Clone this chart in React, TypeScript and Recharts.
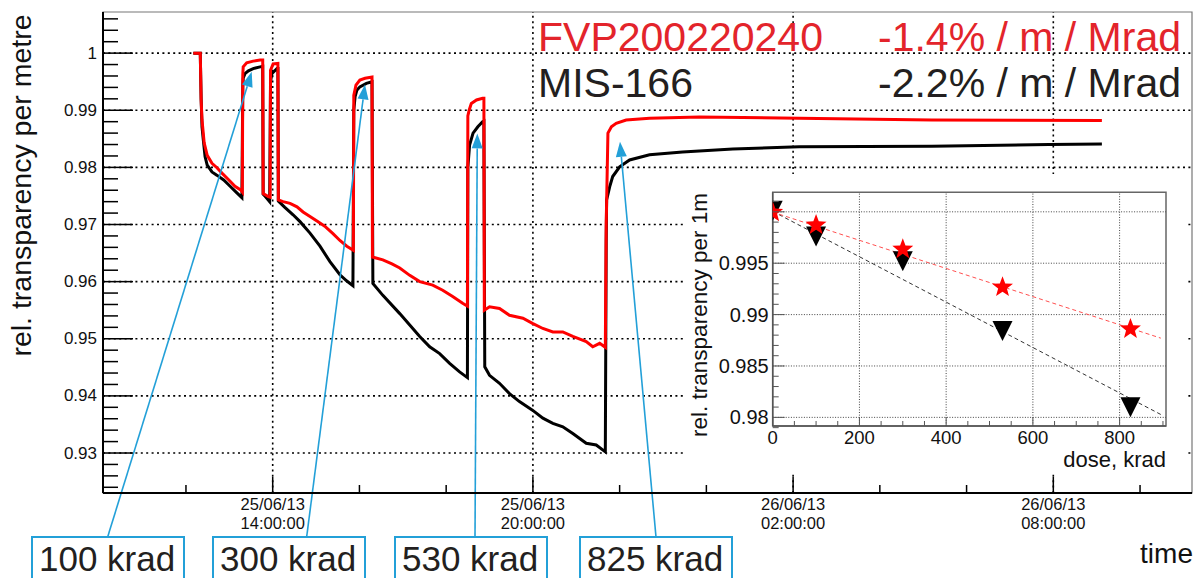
import React from "react";
import {
  LineChart,
  ComposedChart,
  Line,
  Scatter,
  XAxis,
  YAxis,
  ReferenceLine,
  ReferenceArea,
} from "recharts";

const FONT = "'Liberation Sans', Arial, Helvetica, sans-serif";
const RED = "#ff0000";
const TEXT_RED = "#e3242b";
const DARK = "#231f20";
const BLUE = "#23a0d8";

// main plot, time in hours since 25/06/13 00:00
const X_DOMAIN: [number, number] = [10.087, 35.198];
const Y_DOMAIN: [number, number] = [0.923, 1.0072];

const fvpTime = [
  12.17, 12.33, 12.35, 12.37, 12.42, 12.49, 12.6, 12.72, 12.83, 12.99, 13.13, 13.27, 13.3,
  13.31, 13.32, 13.4, 13.55, 13.71, 13.77, 13.78, 13.9, 13.94, 13.95, 14.01, 14.12, 14.13,
  14.24, 14.4, 14.56, 14.7, 14.86, 15.02, 15.2, 15.39, 15.55, 15.71, 15.86, 15.87, 15.92,
  16.01, 16.13, 16.29, 16.3, 16.54, 16.75, 16.93, 17.16, 17.39, 17.69, 17.92, 18.15, 18.38,
  18.49, 18.5, 18.53, 18.58, 18.7, 18.84, 18.87, 18.88, 19.0, 19.23, 19.46, 19.77, 19.99,
  20.23, 20.46, 20.69, 20.92, 21.23, 21.38, 21.54, 21.67, 21.69, 21.73, 21.81, 21.92, 22.15,
  22.69, 23.84, 26.14, 29.2, 33.12,
];
const fvpValue = [
  1.0, 1.0, 0.9918, 0.9883, 0.9843, 0.9821, 0.9807, 0.9799, 0.979, 0.9778, 0.9767, 0.976, 0.9757,
  0.9962, 0.9976, 0.9983, 0.9986, 0.9988, 0.9988, 0.9754, 0.9749, 0.9748, 0.997, 0.9981, 0.9982, 0.9743,
  0.974, 0.9737, 0.9731, 0.9722, 0.9714, 0.9706, 0.9697, 0.9684, 0.9672, 0.9662, 0.9655, 0.9926, 0.9944,
  0.9953, 0.9956, 0.9958, 0.9643, 0.9638, 0.9631, 0.9624, 0.9611, 0.96, 0.9594, 0.9585, 0.9574, 0.9562,
  0.9557, 0.989, 0.99, 0.9912, 0.9918, 0.9921, 0.9921, 0.955, 0.9556, 0.9553, 0.9541, 0.9536, 0.9527,
  0.9518, 0.9512, 0.9512, 0.9504, 0.9495, 0.9486, 0.9492, 0.9485, 0.97, 0.986, 0.9871, 0.9877, 0.9883,
  0.9886, 0.9888, 0.9886, 0.9883, 0.9882,
];

const misTime = [
  12.17, 12.33, 12.35, 12.37, 12.4, 12.44, 12.49, 12.6, 12.72, 12.87, 13.03, 13.18, 13.29,
  13.31, 13.32, 13.36, 13.44, 13.55, 13.71, 13.77, 13.78, 13.83, 13.93, 13.95, 13.98, 14.1,
  14.12, 14.13, 14.28, 14.47, 14.63, 14.86, 15.09, 15.32, 15.55, 15.71, 15.85, 15.87, 15.9,
  15.94, 16.01, 16.16, 16.29, 16.31, 16.54, 16.93, 17.16, 17.39, 17.62, 17.85, 18.08, 18.31,
  18.49, 18.5, 18.54, 18.62, 18.73, 18.84, 18.87, 18.89, 19.0, 19.23, 19.46, 19.69, 19.99,
  20.23, 20.46, 20.69, 20.92, 21.23, 21.46, 21.67, 21.69, 21.7, 21.77, 21.84, 22.0, 22.23,
  22.69, 23.45, 24.61, 26.14, 29.2, 31.9, 33.12,
];
const misValue = [
  1.0, 1.0, 0.992, 0.9871, 0.9848, 0.9819, 0.9804, 0.9792, 0.9786, 0.9778, 0.9766, 0.9755, 0.9747,
  0.994, 0.9956, 0.9964, 0.9969, 0.9973, 0.9976, 0.9977, 0.9753, 0.9749, 0.974, 0.995, 0.9964, 0.9973,
  0.9973, 0.9741, 0.973, 0.9717, 0.9705, 0.9685, 0.9662, 0.9635, 0.9612, 0.9601, 0.9593, 0.99, 0.9924,
  0.9935, 0.9941, 0.9947, 0.995, 0.9597, 0.9576, 0.9544, 0.9524, 0.9504, 0.9486, 0.9474, 0.9457, 0.9442,
  0.9432, 0.98, 0.9839, 0.986, 0.9871, 0.988, 0.9881, 0.9451, 0.9436, 0.9422, 0.9404, 0.939, 0.9375,
  0.9361, 0.9352, 0.9346, 0.9334, 0.9317, 0.9314, 0.9302, 0.967, 0.9743, 0.9766, 0.9784, 0.9801, 0.9813,
  0.9822, 0.9827, 0.9832, 0.9836, 0.9837, 0.984, 0.9841,
];

const timeTicks = [12, 14, 16, 18, 20, 22, 24, 26, 28, 30, 32, 34];
const timeMajor = [14, 20, 26, 32];
const dateLabels = ["25/06/13", "25/06/13", "26/06/13", "26/06/13"];
const clockLabels = ["14:00:00", "20:00:00", "02:00:00", "08:00:00"];

const yMajor = [0.93, 0.94, 0.95, 0.96, 0.97, 0.98, 0.99, 1.0];
const yMajorLabels = ["0.93", "0.94", "0.95", "0.96", "0.97", "0.98", "0.99", "1"];
const yTicks = Array.from({ length: 42 }, (_, i) => +(0.924 + i * 0.002).toFixed(3));

// dose annotations: arrow tip on the curve, tail at the label box
const doseLabels = ["100 krad", "300 krad", "530 krad", "825 krad"];
const arrowTipTime = [13.516, 16.128, 18.718, 22.008];
const arrowTipValue = [0.99673, 0.99452, 0.98595, 0.98448];
const arrowTailTime = [10.196, 14.784, 18.665, 22.838];
const arrowTailValue = 0.91535;
const boxLeft = [32, 213, 395, 580];

// inset: transparency vs dose
const INSET_X: [number, number] = [0, 907];
const INSET_Y: [number, number] = [0.97916, 1.0019];
const doseKrad = [0, 100, 300, 530, 825];
const fvpInset = [0.99995, 0.99871, 0.99636, 0.99267, 0.9886];
const misInset = [1.0002, 0.9977, 0.9953, 0.98851, 0.98108];
const fitDose = [0, 895];
const fvpFit = [0.99997, 0.98771];
const misFit = [1.00005, 0.98028];

const insetXTicks = Array.from({ length: 19 }, (_, i) => i * 50);
const insetXMajor = [0, 200, 400, 600, 800];
const insetYTicks = Array.from({ length: 23 }, (_, i) => +(0.979 + i * 0.001).toFixed(3));
const insetYMajor = [0.98, 0.985, 0.99, 0.995, 1.0];
const insetYLabels = ["0.98", "0.985", "0.99", "0.995", ""];

const fvpData = fvpTime.map((t, i) => ({ t, v: fvpValue[i] }));
const misData = misTime.map((t, i) => ({ t, v: misValue[i] }));
const fvpPoints = doseKrad.map((d, i) => ({ d, v: fvpInset[i] }));
const misPoints = doseKrad.map((d, i) => ({ d, v: misInset[i] }));
const fvpFitData = fitDose.map((d, i) => ({ d, v: fvpFit[i] }));
const misFitData = fitDose.map((d, i) => ({ d, v: misFit[i] }));

const near = (a: number, b: number) => Math.abs(a - b) < 1e-7;

function MainYTick(props: any) {
  const { x, y, payload } = props;
  const idx = yMajor.findIndex((m) => near(m, payload.value));
  const major = idx >= 0;
  return (
    <g>
      <line x1={x} x2={x + (major ? 30 : 15)} y1={y} y2={y} stroke="#000" strokeWidth={1.5} />
      {major && (
        <text x={x - 6} y={y} textAnchor="end" dominantBaseline="central" fontSize={17} fontFamily={FONT} fill="#111">
          {yMajorLabels[idx]}
        </text>
      )}
    </g>
  );
}

function MainXTick(props: any) {
  const { x, y, payload } = props;
  const idx = timeMajor.indexOf(payload.value);
  const major = idx >= 0;
  return (
    <g>
      <line x1={x} x2={x} y1={y} y2={y - (major ? 16 : 8)} stroke="#000" strokeWidth={1.5} />
      {major && (
        <text textAnchor="middle" fontSize={16.5} fontFamily={FONT} fill="#111">
          <tspan x={x} y={y + 17}>{dateLabels[idx]}</tspan>
          <tspan x={x} y={y + 36}>{clockLabels[idx]}</tspan>
        </text>
      )}
    </g>
  );
}

function InsetYTick(props: any) {
  const { x, y, payload } = props;
  const idx = insetYMajor.findIndex((m) => near(m, payload.value));
  const major = idx >= 0;
  return (
    <g>
      <line x1={x} x2={x + (major ? 12 : 6)} y1={y} y2={y} stroke="#555" strokeWidth={1} />
      {major && (
        <text x={x - 4} y={y} textAnchor="end" dominantBaseline="central" fontSize={20} fontFamily={FONT} fill="#111">
          {insetYLabels[idx]}
        </text>
      )}
    </g>
  );
}

function InsetXTick(props: any) {
  const { x, y, payload } = props;
  const major = insetXMajor.includes(payload.value);
  return (
    <g>
      <line x1={x} x2={x} y1={y} y2={y - (major ? 9 : 5)} stroke="#555" strokeWidth={1} />
      {major && (
        <text x={x} y={y + 17.5} textAnchor="middle" fontSize={18.5} fontFamily={FONT} fill="#111">
          {payload.value}
        </text>
      )}
    </g>
  );
}

function ArrowShape(props: any) {
  const { x1, y1, x2, y2 } = props;
  const dx = x2 - x1;
  const dy = y2 - y1;
  const len = Math.hypot(dx, dy) || 1;
  const ux = dx / len;
  const uy = dy / len;
  const hl = 15;
  const hw = 5.5;
  const bx = x2 - ux * hl;
  const by = y2 - uy * hl;
  return (
    <g>
      <line x1={x1} y1={y1} x2={bx} y2={by} stroke={BLUE} strokeWidth={1.6} />
      <polygon
        points={`${x2},${y2} ${bx - uy * hw},${by + ux * hw} ${bx + uy * hw},${by - ux * hw}`}
        fill={BLUE}
      />
    </g>
  );
}

function StarMarker(props: any) {
  const { cx, cy } = props;
  if (cx == null || cy == null) return null;
  const pts: string[] = [];
  for (let i = 0; i < 10; i++) {
    const r = i % 2 === 0 ? 11 : 4.6;
    const a = -Math.PI / 2 + (i * Math.PI) / 5;
    pts.push(`${cx + r * Math.cos(a)},${cy + r * Math.sin(a)}`);
  }
  return <polygon points={pts.join(" ")} fill={RED} />;
}

function TriangleDown(props: any) {
  const { cx, cy } = props;
  if (cx == null || cy == null) return null;
  return <polygon points={`${cx - 10},${cy - 9} ${cx + 10},${cy - 9} ${cx},${cy + 11}`} fill="#000" />;
}

function MainChart() {
  return (
    <LineChart width={1196} height={578} margin={{ top: 12, right: 4, bottom: 0, left: 0 }}>
      <XAxis
        dataKey="t"
        type="number"
        domain={X_DOMAIN}
        allowDataOverflow
        ticks={timeTicks}
        interval={0}
        tickSize={0}
        tickMargin={0}
        tickLine={false}
        axisLine={{ stroke: "#000", strokeWidth: 2 }}
        tick={(p: any) => <MainXTick {...p} />}
        height={85}
      />
      <YAxis
        type="number"
        domain={Y_DOMAIN}
        allowDataOverflow
        ticks={yTicks}
        interval={0}
        tickSize={0}
        tickMargin={0}
        tickLine={false}
        axisLine={{ stroke: "#000", strokeWidth: 2 }}
        tick={(p: any) => <MainYTick {...p} />}
        width={103}
      />
      <ReferenceArea
        x1={X_DOMAIN[0]}
        x2={X_DOMAIN[1]}
        y1={Y_DOMAIN[0]}
        y2={Y_DOMAIN[1]}
        fill="none"
        stroke="#777"
        strokeWidth={1.2}
        ifOverflow="visible"
      />
      {yMajor.map((v) => (
        <ReferenceLine key={`gy${v}`} y={v} stroke="#000" strokeWidth={1.6} strokeDasharray="2 3.4" />
      ))}
      {timeMajor.map((t) => (
        <ReferenceLine key={`gx${t}`} x={t} stroke="#000" strokeWidth={1.6} strokeDasharray="2 3.4" />
      ))}
      <Line data={misData} dataKey="v" type="linear" stroke="#000" strokeWidth={3} dot={false} isAnimationActive={false} />
      <Line data={fvpData} dataKey="v" type="linear" stroke={RED} strokeWidth={3} dot={false} isAnimationActive={false} />
      {arrowTipTime.map((t, i) => (
        <ReferenceLine
          key={`ar${i}`}
          segment={[
            { x: arrowTailTime[i], y: arrowTailValue },
            { x: t, y: arrowTipValue[i] },
          ]}
          ifOverflow="visible"
          stroke={BLUE}
          shape={(p: any) => <ArrowShape {...p} />}
        />
      ))}
    </LineChart>
  );
}

function InsetChart() {
  return (
    <ComposedChart width={502} height={298} margin={{ top: 18.3, right: 22, bottom: 0, left: 0 }}>
      <XAxis
        dataKey="d"
        type="number"
        domain={INSET_X}
        allowDataOverflow
        ticks={insetXTicks}
        interval={0}
        tickSize={0}
        tickMargin={0}
        tickLine={false}
        axisLine={{ stroke: "#555", strokeWidth: 1.5 }}
        tick={(p: any) => <InsetXTick {...p} />}
        height={46}
      />
      <YAxis
        dataKey="v"
        type="number"
        domain={INSET_Y}
        allowDataOverflow
        ticks={insetYTicks}
        interval={0}
        tickSize={0}
        tickMargin={0}
        tickLine={false}
        axisLine={{ stroke: "#555", strokeWidth: 1.5 }}
        tick={(p: any) => <InsetYTick {...p} />}
        width={86.7}
      />
      <ReferenceArea
        x1={INSET_X[0]}
        x2={INSET_X[1]}
        y1={INSET_Y[0]}
        y2={INSET_Y[1]}
        fill="none"
        stroke="#666"
        strokeWidth={1.5}
        ifOverflow="visible"
      />
      {insetYMajor.map((v) => (
        <ReferenceLine key={`iy${v}`} y={v} stroke="#444" strokeWidth={1} strokeDasharray="1 1.6" />
      ))}
      {insetXMajor.slice(1).map((d) => (
        <ReferenceLine key={`ix${d}`} x={d} stroke="#444" strokeWidth={1} strokeDasharray="1 1.6" />
      ))}
      <Line data={misFitData} dataKey="v" type="linear" stroke="#333" strokeWidth={1} strokeDasharray="4 3" dot={false} isAnimationActive={false} />
      <Line data={fvpFitData} dataKey="v" type="linear" stroke="#ff5050" strokeWidth={1} strokeDasharray="4 3" dot={false} isAnimationActive={false} />
      <Scatter data={misPoints} dataKey="v" shape={(p: any) => <TriangleDown {...p} />} isAnimationActive={false} />
      <Scatter data={fvpPoints} dataKey="v" shape={(p: any) => <StarMarker {...p} />} isAnimationActive={false} />
    </ComposedChart>
  );
}

export default function App() {
  return (
    <div style={{ position: "absolute", left: 0, top: 0, width: 1196, height: 578, background: "#fff", overflow: "hidden" }}>
      <MainChart />
      <div style={{ position: "absolute", left: 686, top: 174, width: 502, height: 298, background: "#fff" }}>
        <InsetChart />
      </div>
      <svg
        width={1196}
        height={578}
        style={{ position: "absolute", left: 0, top: 0, pointerEvents: "none" }}
        fontFamily={FONT}
      >
        <text transform="translate(31,185.5) rotate(-90)" textAnchor="middle" fontSize={28.5} fill="#111">
          rel. transparency per metre
        </text>
        <text x={1193} y={563} textAnchor="end" fontSize={28} fill="#111">
          time
        </text>
        <text x={538} y={51} fontSize={41} fill={TEXT_RED}>FVP200220240</text>
        <text x={1181} y={51} textAnchor="end" fontSize={41} fill={TEXT_RED}>-1.4% / m / Mrad</text>
        <text x={538} y={97} fontSize={41} fill={DARK}>MIS-166</text>
        <text x={1181} y={97} textAnchor="end" fontSize={41} fill={DARK}>-2.2% / m / Mrad</text>
        {doseLabels.map((lab, i) => (
          <g key={lab}>
            <rect x={boxLeft[i]} y={537} width={152} height={60} fill="none" stroke={BLUE} strokeWidth={2} />
            <text x={boxLeft[i] + 7} y={571} fontSize={35} fill={DARK}>{lab}</text>
          </g>
        ))}
        <text transform="translate(707,315) rotate(-90)" textAnchor="middle" fontSize={22.5} fill="#111">
          rel. transparency per 1m
        </text>
        <text x={1166} y={467} textAnchor="end" fontSize={22} fill="#111">
          dose, krad
        </text>
      </svg>
    </div>
  );
}
